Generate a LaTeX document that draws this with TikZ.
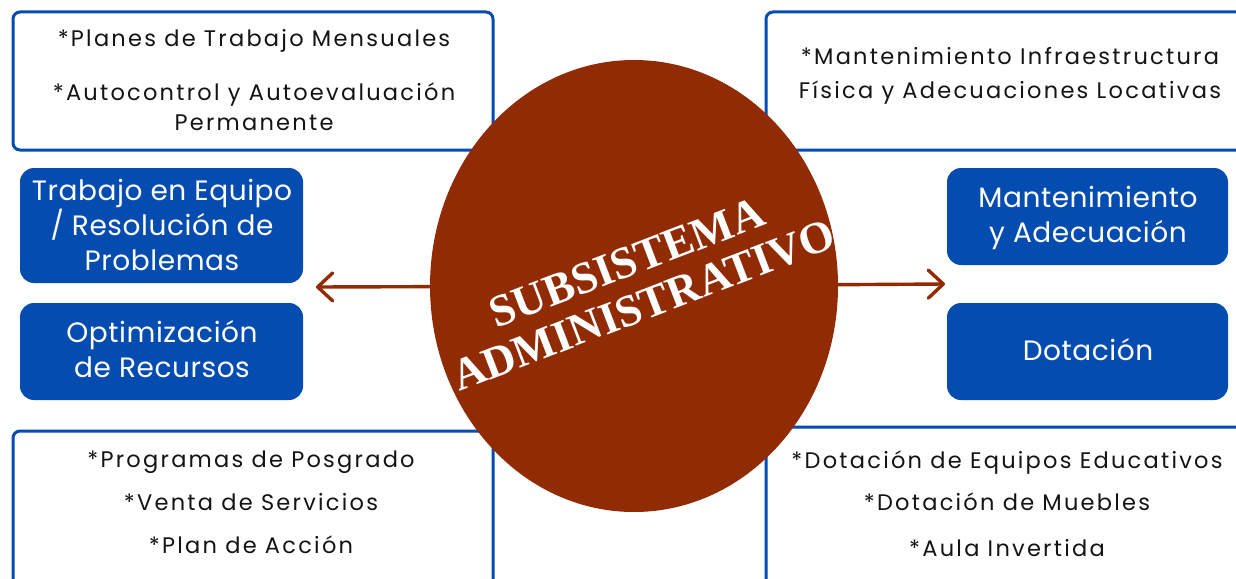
\documentclass[tikz,border=0pt]{standalone}
\usepackage{fontspec}
\setmainfont{Poppins}
\newfontfamily\boxfont[LetterSpace=10]{Poppins}
\newfontfamily\bluefont[LetterSpace=2]{Poppins}
\newfontfamily\titlefont{Liberation Serif}
\usetikzlibrary{arrows.meta,shapes.geometric}
\definecolor{rust}{RGB}{145,43,4}
\definecolor{bblue}{RGB}{4,76,175}
\definecolor{ink}{RGB}{20,20,20}
\begin{document}
\begin{tikzpicture}[x=1pt,y=-1pt,
  outline/.style={draw=bblue, line width=3pt, rounded corners=7pt, fill=white, inner sep=0pt},
  bluebox/.style={fill=bblue, rounded corners=14pt, inner sep=0pt},
  ltext/.style={anchor=base, text=ink, font=\boxfont\fontsize{22.5}{26}\selectfont, inner sep=0pt},
  wtext/.style={anchor=base, text=white, font=\bluefont\fontsize{28}{34}\selectfont, inner sep=0pt},
  arr/.style={draw=rust, line width=3.4pt, line cap=round, -{Straight Barb[length=15pt,width=28pt,line cap=round,line join=round]}}
]
\useasboundingbox (0,0) rectangle (1236,578);
\clip (0,0) rectangle (1236,578);
\fill[white] (0,0) rectangle (1236,578);

% outlined boxes
\node[outline, minimum width=480pt, minimum height=138pt] (tl) at (253,81) {};
\node[outline, minimum width=494pt, minimum height=138pt] (tr) at (1013,81) {};
\node[outline, minimum width=480pt, minimum height=169pt] (bl) at (253,515.5) {};
\node[outline, minimum width=494pt, minimum height=173pt] (br) at (1013,513.5) {};

% blue boxes
\node[bluebox, minimum width=283pt, minimum height=115pt] (b1) at (161.5,225.5) {};
\node[bluebox, minimum width=283pt, minimum height=97pt] (b2) at (161.5,351.5) {};
\node[bluebox, minimum width=281pt, minimum height=97pt] (b3) at (1087.5,216.5) {};
\node[bluebox, minimum width=281pt, minimum height=97pt] (b4) at (1087.5,351.5) {};

% texts in outlined boxes
\node[ltext] (tl1) at (254,47) {*Planes de Trabajo Mensuales};
\node[ltext] (tl2) at (254,100) {*Autocontrol y Autoevaluación};
\node[ltext] (tl3) at (254,130) {Permanente};
\node[ltext] (tr1) at (1010,65) {*Mantenimiento Infraestructura};
\node[ltext] (tr2) at (1010,98) {Física y Adecuaciones Locativas};
\node[ltext] (bl1) at (251,467) {*Programas de Posgrado};
\node[ltext] (bl2) at (251,510) {*Venta de Servicios};
\node[ltext] (bl3) at (251,553) {*Plan de Acción};
\node[ltext] (br1) at (1007,468) {*Dotación de Equipos Educativos};
\node[ltext] (br2) at (1007,510) {*Dotación de Muebles};
\node[ltext] (br3) at (1007,556) {*Aula Invertida};

% texts in blue boxes
\node[wtext] (b1a) at (162,200) {Trabajo en Equipo};
\node[wtext] (b1b) at (162,235) {/ Resolución de};
\node[wtext] (b1c) at (162,270) {Problemas};
\node[wtext] (b2a) at (162,342) {Optimización};
\node[wtext] (b2b) at (162,377) {de Recursos};
\node[wtext] (b3a) at (1088,207) {Mantenimiento};
\node[wtext] (b3b) at (1088,242) {y Adecuación};
\node[wtext] (b4a) at (1088,360) {Dotación};

% central ellipse
\node[ellipse, fill=rust, minimum width=408pt, minimum height=452pt, inner sep=0pt] (ell) at (634,286) {};
\node[rotate=21, text=white, font=\titlefont\bfseries\fontsize{45}{46}\selectfont, align=center, inner sep=0pt] (ttl) at (635,284) {SUBSISTEMA\\ADMINISTRATIVO};

% arrows
\coordinate (lt) at (316,287);
\coordinate (rt) at (945,284);
\draw[arr] (ell) -- (lt);
\draw[arr] (ell) -- (rt);
\end{tikzpicture}
\end{document}
